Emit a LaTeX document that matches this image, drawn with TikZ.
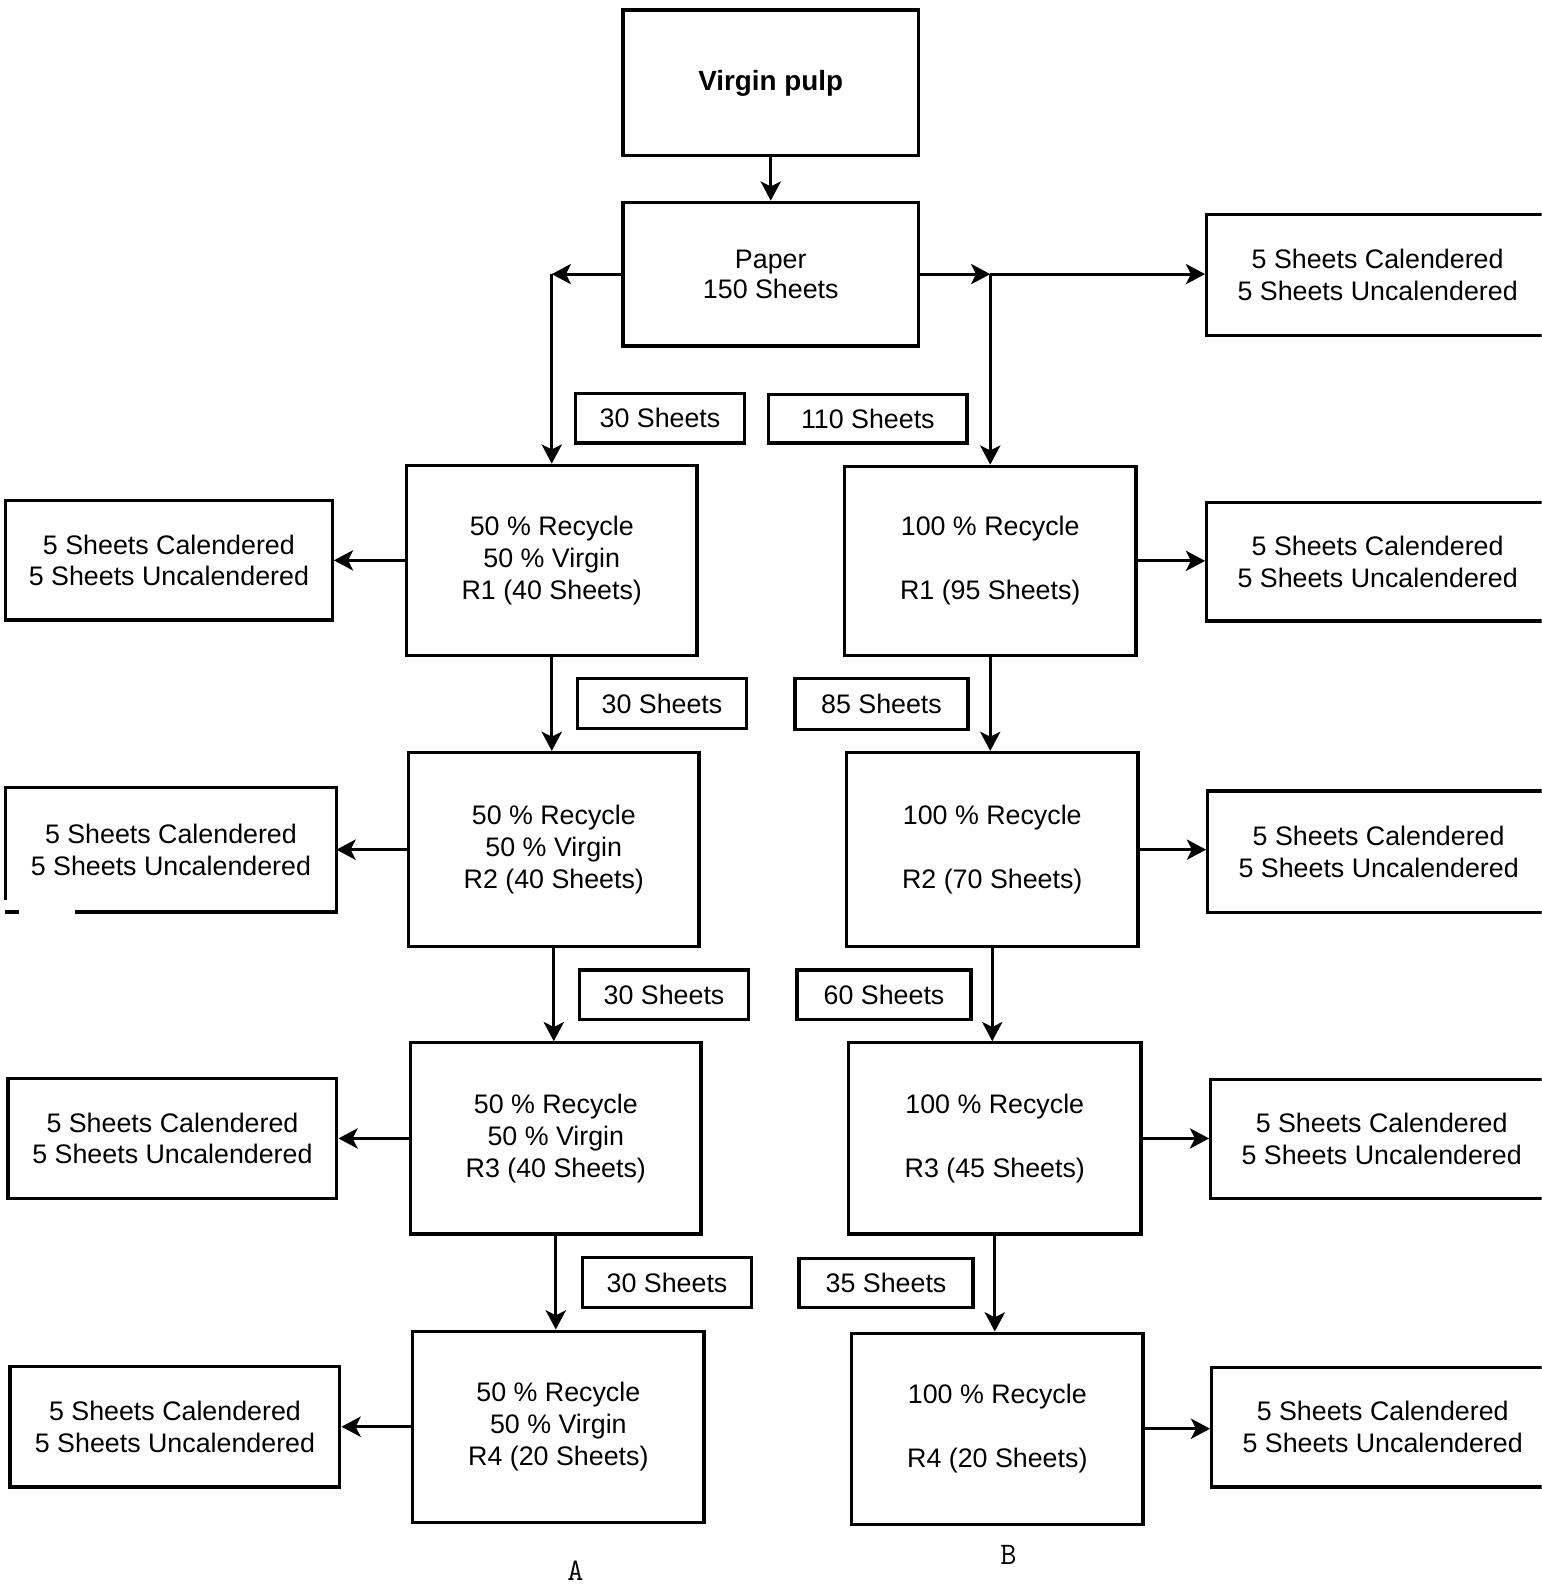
\documentclass[tikz,border=0pt]{standalone}
\usepackage{fontspec}
\setmainfont{Liberation Sans}
\usetikzlibrary{arrows.meta}
\begin{document}
\begin{tikzpicture}[x=1pt,y=-1pt,
  box/.style={draw, line width=3.2pt, inner sep=0pt, align=center,
    font=\fontsize{26.5}{31.5}\selectfont},
  sidebox/.style={box, minimum width=338pt},
  lbl/.style={draw, line width=3.2pt, inner sep=0pt, align=center,
    font=\fontsize{26.5}{31}\selectfont},
  arr/.style={line width=3pt, -{Stealth[length=19pt,width=20pt,inset=5pt]}},
  caption/.style={font=\ttfamily\fontsize{31}{34}\selectfont},
]
\useasboundingbox (0,0) rectangle (1524,1568);
\fill[white] (0,0) rectangle (1524,1568);
\clip (0,0) rectangle (1524,1568);

% top
\node[box, minimum width=292pt, minimum height=144pt,
  font=\fontsize{27.5}{33}\selectfont\bfseries] (vp) at (762,82) {Virgin pulp};
\node[box, minimum width=292pt, minimum height=142pt,
  font=\fontsize{26.5}{30}\selectfont] (paper) at (762,271) {Paper\\150 Sheets};
\node[sidebox, minimum height=120pt] (r0) at (1362,272) {5 Sheets Calendered\\5 Sheets Uncalendered};

% column A
\node[box, minimum width=287pt, minimum height=188pt] (a1) at (545.5,554) {50 \% Recycle\\50 \% Virgin\\R1 (40 Sheets)};
\node[box, minimum width=287pt, minimum height=192pt] (a2) at (547.5,840) {50 \% Recycle\\50 \% Virgin\\R2 (40 Sheets)};
\node[box, minimum width=287pt, minimum height=189pt] (a3) at (549.5,1125.5) {50 \% Recycle\\50 \% Virgin\\R3 (40 Sheets)};
\node[box, minimum width=288pt, minimum height=189pt] (a4) at (552,1410.5) {50 \% Recycle\\50 \% Virgin\\R4 (20 Sheets)};

% column B
\node[box, minimum width=288pt, minimum height=187pt] (b1) at (979,554.5) {100 \% Recycle\\[31.5pt]R1 (95 Sheets)};
\node[box, minimum width=288pt, minimum height=192pt] (b2) at (981,840) {100 \% Recycle\\[31.5pt]R2 (70 Sheets)};
\node[box, minimum width=289pt, minimum height=189pt] (b3) at (983.5,1125.5) {100 \% Recycle\\[31.5pt]R3 (45 Sheets)};
\node[box, minimum width=288pt, minimum height=189pt] (b4) at (986,1412.5) {100 \% Recycle\\[31.5pt]R4 (20 Sheets)};

% left side boxes
\node[box, minimum width=323pt, minimum height=118pt] (l1) at (167,554) {5 Sheets Calendered\\5 Sheets Uncalendered};
\node[box, draw=none, minimum width=324pt, minimum height=120pt] (l2) at (169,840) {5 Sheets Calendered\\5 Sheets Uncalendered};
\draw[line width=3.2pt] (l2.south west) ++(0,-12) -- (l2.north west) -- (l2.north east) -- (l2.south east) -- ++(-258,0);
\draw[line width=3.2pt] (l2.south west) -- ++(13,0);
\node[box, minimum width=325pt, minimum height=119pt] (l3) at (170.5,1125.5) {5 Sheets Calendered\\5 Sheets Uncalendered};
\node[box, minimum width=326pt, minimum height=119pt] (l4) at (173,1410.5) {5 Sheets Calendered\\5 Sheets Uncalendered};

% right side boxes
\node[sidebox, minimum height=117pt] (r1) at (1362,555.5) {5 Sheets Calendered\\5 Sheets Uncalendered};
\node[sidebox, minimum height=120pt] (r2) at (1363,842) {5 Sheets Calendered\\5 Sheets Uncalendered};
\node[sidebox, minimum height=118pt] (r3) at (1366,1126) {5 Sheets Calendered\\5 Sheets Uncalendered};
\node[sidebox, minimum height=118pt] (r4) at (1367,1411) {5 Sheets Calendered\\5 Sheets Uncalendered};

% sheet count labels
\node[lbl, minimum width=167pt, minimum height=49pt] (s1) at (652.5,413.5) {30 Sheets};
\node[lbl, minimum width=196pt, minimum height=48pt] (s2) at (858,414) {110 Sheets};
\node[lbl, minimum width=167pt, minimum height=49pt] (s3) at (654.5,695.5) {30 Sheets};
\node[lbl, minimum width=171pt, minimum height=50pt] (s4) at (871.5,696) {85 Sheets};
\node[lbl, minimum width=167pt, minimum height=49pt] (s5) at (656.5,983.5) {30 Sheets};
\node[lbl, minimum width=172pt, minimum height=49pt] (s6) at (874,983.5) {60 Sheets};
\node[lbl, minimum width=167pt, minimum height=50pt] (s7) at (659.5,1268) {30 Sheets};
\node[lbl, minimum width=172pt, minimum height=49pt] (s8) at (876,1268.5) {35 Sheets};

% column captions
\node[caption] (capA) at (569,1553) {A};
\node[caption] (capB) at (997,1537) {B};

% connectors
\coordinate (cA) at (a1.north |- paper.west);
\coordinate (cB) at (b1.north |- paper.east);
\draw[arr] (vp.south) -- (paper.north);
\draw[arr] (paper.west) -- (cA);
\draw[arr] (cA) -- (a1.north);
\draw[arr] (paper.east) -- (cB);
\draw[arr] (cB) -- (cB -| r0.west);
\draw[arr] (cB) -- (b1.north);

\draw[arr] (a1.south) -- (a1.south |- a2.north);
\draw[arr] (a2.south) -- (a2.south |- a3.north);
\draw[arr] (a3.south) -- (a3.south |- a4.north);
\draw[arr] (b1.south) -- (b1.south |- b2.north);
\draw[arr] (b2.south) -- (b2.south |- b3.north);
\draw[arr] (b3.south) -- (b3.south |- b4.north);

\draw[arr] (a1.west) -- (a1.west -| l1.east);
\draw[arr] (a2.west) -- (a2.west -| l2.east);
\draw[arr] (a3.west) -- (a3.west -| l3.east);
\draw[arr] (a4.west) -- (a4.west -| l4.east);
\draw[arr] (b1.east) -- (b1.east -| r1.west);
\draw[arr] (b2.east) -- (b2.east -| r2.west);
\draw[arr] (b3.east) -- (b3.east -| r3.west);
\draw[arr] (b4.east) -- (b4.east -| r4.west);
\end{tikzpicture}
\end{document}
